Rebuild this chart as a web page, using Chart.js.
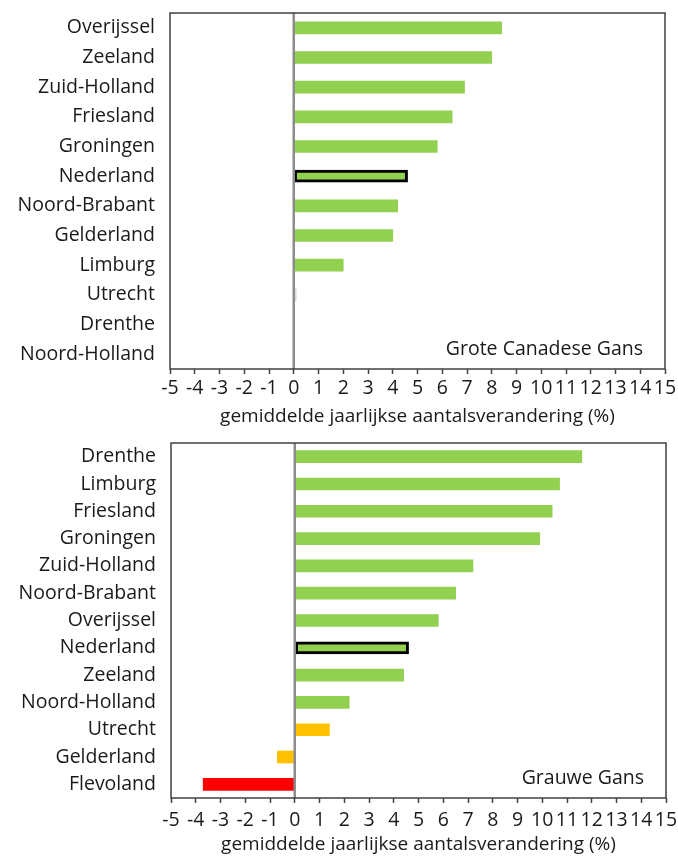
<!DOCTYPE html>
<html>
<head>
<meta charset="utf-8">
<script src="https://cdn.jsdelivr.net/npm/chart.js@4/dist/chart.umd.min.js"></script>
<style>
  html, body { margin: 0; padding: 0; background: #fff; }
  .panel { position: absolute; left: 0; width: 678px; height: 428px; }
  #top-panel { top: 0; }
  #bottom-panel { top: 428px; }
</style>
</head>
<body>
<div class="panel" id="top-panel"><canvas id="chart-top"></canvas></div>
<div class="panel" id="bottom-panel"><canvas id="chart-bottom"></canvas></div>
<script>
// Grote Canadese Gans
const canadeseLabels = ['Overijssel', 'Zeeland', 'Zuid-Holland', 'Friesland', 'Groningen', 'Nederland',
  'Noord-Brabant', 'Gelderland', 'Limburg', 'Utrecht', 'Drenthe', 'Noord-Holland'];
const canadeseValues = [8.4, 8.0, 6.9, 6.4, 5.8, 4.6, 4.2, 4.0, 2.0, 0.1, null, null];
const canadeseTrend = ['toename', 'toename', 'toename', 'toename', 'toename', 'toename',
  'toename', 'toename', 'toename', 'onzeker', null, null];

// Grauwe Gans
const grauweLabels = ['Drenthe', 'Limburg', 'Friesland', 'Groningen', 'Zuid-Holland', 'Noord-Brabant',
  'Overijssel', 'Nederland', 'Zeeland', 'Noord-Holland', 'Utrecht', 'Gelderland', 'Flevoland'];
const grauweValues = [11.6, 10.7, 10.4, 9.9, 7.2, 6.5, 5.8, 4.6, 4.4, 2.2, 1.4, -0.7, -3.7];
const grauweTrend = ['toename', 'toename', 'toename', 'toename', 'toename', 'toename',
  'toename', 'toename', 'toename', 'toename', 'stabiel', 'stabiel', 'afname'];

const xMin = -5;
const xMax = 15;
const xTitle = 'gemiddelde jaarlijkse aantalsverandering (%)';

const trendColors = {toename: '#92D050', onzeker: '#D9D9D9', stabiel: '#FFC000', afname: '#FF0000'};
const TEXT = '#1a1a1a';
const FONT = '"Open Sans", sans-serif';

Chart.defaults.font.family = FONT;
Chart.defaults.font.size = 19.5;
Chart.defaults.color = TEXT;

// frame, zero line and species name on top of the bars
const framePlugin = {
  id: 'frame',
  afterDatasetsDraw(chart, args, opts) {
    const {ctx, chartArea: a} = chart;
    const x0 = chart.scales.x.getPixelForValue(0);
    ctx.save();
    ctx.strokeStyle = '#8c8c8c';
    ctx.lineWidth = 2.5;
    ctx.beginPath();
    ctx.moveTo(x0, a.top);
    ctx.lineTo(x0, a.bottom);
    ctx.stroke();
    ctx.strokeStyle = '#404040';
    ctx.lineWidth = 1.5;
    ctx.strokeRect(a.left, a.top, a.width, a.height);
    ctx.fillStyle = TEXT;
    ctx.font = '19.5px ' + FONT;
    ctx.textAlign = 'right';
    ctx.textBaseline = 'alphabetic';
    ctx.fillText(opts.label, a.right - 22, a.bottom - 14);
    ctx.restore();
  }
};

function makeChart(id, labels, values, trend, name, cfg) {
  return new Chart(document.getElementById(id), {
    type: 'bar',
    data: {
      labels,
      datasets: [{
        data: values,
        backgroundColor: trend.map(t => trendColors[t] || 'transparent'),
        borderColor: labels.map(l => l === 'Nederland' ? '#000' : 'transparent'),
        borderWidth: labels.map(l => l === 'Nederland' ? 3 : 0),
        borderSkipped: false,
        barThickness: 12
      }]
    },
    options: {
      indexAxis: 'y',
      responsive: true,
      maintainAspectRatio: false,
      animation: false,
      layout: {padding: {top: cfg.padTop, right: cfg.padRight, bottom: 0, left: 0}},
      plugins: {legend: {display: false}, tooltip: {enabled: false}, frame: {label: name}},
      scales: {
        x: {
          type: 'linear',
          min: xMin,
          max: xMax,
          ticks: {stepSize: 1, autoSkip: false, maxRotation: 0, minRotation: 0, padding: cfg.tickPad, color: TEXT},
          grid: {drawOnChartArea: false, drawTicks: true, tickLength: 5, tickColor: '#404040', tickWidth: 1.5},
          border: {display: false},
          title: {display: true, text: xTitle, color: TEXT, font: {size: 19}, padding: {top: 0, bottom: cfg.titlePad}},
          afterFit: s => { s.height = cfg.axisHeight; s.paddingLeft = 0; s.paddingRight = 0; }
        },
        y: {
          grid: {display: false, drawTicks: false},
          border: {display: false},
          ticks: {padding: 15, color: TEXT},
          afterFit: s => { s.width = cfg.left; s.paddingTop = 0; s.paddingBottom = 0; }
        }
      }
    },
    plugins: [framePlugin]
  });
}

makeChart('chart-top', canadeseLabels, canadeseValues, canadeseTrend, 'Grote Canadese Gans',
  {padTop: 13, padRight: 13, left: 170, axisHeight: 59, tickPad: 3, titlePad: 0});
makeChart('chart-bottom', grauweLabels, grauweValues, grauweTrend, 'Grauwe Gans',
  {padTop: 15, padRight: 12, left: 171, axisHeight: 58, tickPad: 6, titlePad: 0});
</script>
</body>
</html>
